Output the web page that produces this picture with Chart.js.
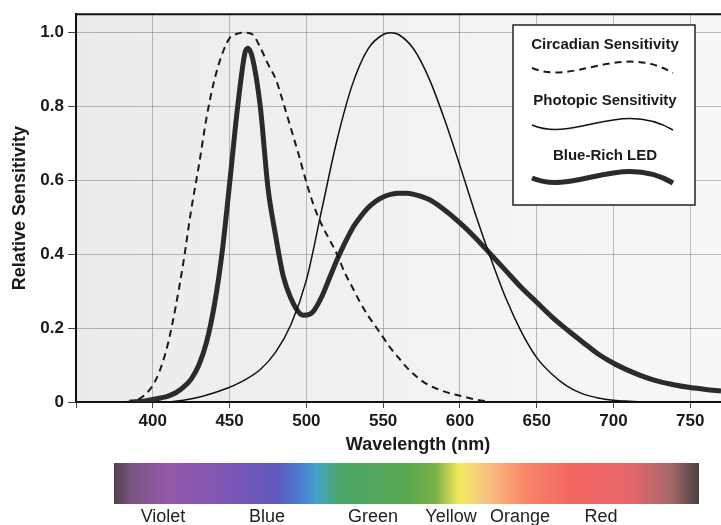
<!DOCTYPE html>
<html>
<head>
<meta charset="utf-8">
<script src="https://cdn.jsdelivr.net/npm/chart.js@4.4.1/dist/chart.umd.min.js"></script>
<style>
    body { margin: 0; background: #ffffff; }
    #wrap { width: 721px; height: 525px; position: relative; }
</style>
</head>
<body>
<div id="wrap"><canvas id="sensChart" width="721" height="525"></canvas></div>
<script>
// Circadian sensitivity (dashed)
const circadianNm = [383, 390, 395, 400, 405, 410, 415, 420, 425, 430, 435, 440, 445, 450, 455, 460, 465, 470, 475, 480, 485, 490, 495, 500, 505, 510, 515, 520, 525, 530, 535, 540, 545, 550, 555, 560, 565, 570, 575, 580, 590, 600, 610, 620];
const circadianVals = [0, 0.006, 0.02, 0.045, 0.09, 0.16, 0.26, 0.38, 0.52, 0.64, 0.77, 0.87, 0.94, 0.985, 0.997, 1.0, 0.995, 0.96, 0.915, 0.875, 0.81, 0.74, 0.67, 0.595, 0.53, 0.48, 0.44, 0.40, 0.35, 0.31, 0.27, 0.235, 0.205, 0.175, 0.145, 0.12, 0.095, 0.075, 0.058, 0.045, 0.028, 0.017, 0.007, 0];

// Photopic sensitivity (thin)
const photopicNm = [410, 420, 430, 440, 450, 460, 470, 480, 490, 500, 510, 520, 530, 540, 550, 555, 560, 570, 580, 590, 600, 610, 620, 630, 640, 650, 660, 670, 680, 690, 700, 710, 720];
const photopicVals = [0, 0.005, 0.013, 0.025, 0.04, 0.06, 0.088, 0.135, 0.21, 0.33, 0.52, 0.71, 0.86, 0.955, 0.995, 1.0, 0.995, 0.955, 0.875, 0.765, 0.64, 0.51, 0.39, 0.28, 0.19, 0.12, 0.075, 0.042, 0.022, 0.011, 0.005, 0.002, 0];

// Blue-rich LED spectrum (thick)
const ledNm = [385, 395, 400, 405, 410, 415, 420, 425, 430, 435, 440, 445, 450, 455, 460, 462, 465, 470, 475, 480, 485, 490, 495, 498, 502, 505, 510, 515, 520, 525, 530, 535, 540, 545, 550, 555, 560, 565, 570, 580, 590, 600, 610, 620, 630, 640, 650, 660, 670, 680, 690, 700, 710, 720, 730, 740, 750, 760, 770];
const ledVals = [0, 0.003, 0.007, 0.011, 0.016, 0.025, 0.04, 0.062, 0.1, 0.162, 0.26, 0.4, 0.59, 0.79, 0.945, 0.958, 0.93, 0.8, 0.58, 0.45, 0.34, 0.28, 0.243, 0.235, 0.237, 0.248, 0.285, 0.335, 0.385, 0.43, 0.47, 0.5, 0.525, 0.543, 0.555, 0.562, 0.565, 0.565, 0.562, 0.548, 0.52, 0.485, 0.445, 0.4, 0.355, 0.31, 0.27, 0.23, 0.195, 0.162, 0.13, 0.105, 0.085, 0.068, 0.055, 0.046, 0.039, 0.034, 0.03];

const xTicks = [350, 400, 450, 500, 550, 600, 650, 700, 750];
const yTicks = [0, 0.2, 0.4, 0.6, 0.8, 1.0];
const seriesNames = ["Circadian Sensitivity", "Photopic Sensitivity", "Blue-Rich LED"];
const colourNames = ["Violet", "Blue", "Green", "Yellow", "Orange", "Red"];

const toPoints = (xs, ys) => xs.map((x, i) => ({ x: x, y: ys[i] }));
const FONT = "'Liberation Sans', Arial, Helvetica, sans-serif";

// wavy sample line for the legend box
function wave(ctx, x0, x1, yc) {
    const w = x1 - x0;
    ctx.beginPath();
    ctx.moveTo(x0, yc);
    ctx.bezierCurveTo(x0 + 0.3 * w, yc + 18, x0 + 0.62 * w, yc - 26, x1, yc + 5);
    ctx.stroke();
}

const extrasPlugin = {
    id: "extras",
    beforeDraw(chart) {
        const { ctx, chartArea: a } = chart;
        ctx.save();
        const g = ctx.createLinearGradient(a.left, 0, a.right, 0);
        g.addColorStop(0, "#ebebeb");
        g.addColorStop(1, "#f8f8f8");
        ctx.fillStyle = g;
        ctx.fillRect(a.left, a.top, a.right - a.left, a.bottom - a.top);
        ctx.restore();
    },
    afterDraw(chart) {
        const { ctx, chartArea: a } = chart;
        ctx.save();

        // top frame line
        ctx.strokeStyle = "#111";
        ctx.lineWidth = 2;
        ctx.beginPath();
        ctx.moveTo(a.left, a.top);
        ctx.lineTo(a.right, a.top);
        ctx.stroke();

        // x axis title
        ctx.fillStyle = "#1a1a1a";
        ctx.font = "bold 18px " + FONT;
        ctx.textAlign = "center";
        ctx.textBaseline = "middle";
        ctx.fillText("Wavelength (nm)", 418, 445);

        // legend box
        const bx = 513, by = 25, bw = 182, bh = 180;
        ctx.fillStyle = "#ffffff";
        ctx.fillRect(bx, by, bw, bh);
        ctx.strokeStyle = "#222";
        ctx.lineWidth = 1.5;
        ctx.strokeRect(bx, by, bw, bh);

        const ds = chart.data.datasets;
        const textY = [45, 101, 156];
        const waveY = [68, 125, 178];
        ctx.font = "bold 15px " + FONT;
        ctx.fillStyle = "#1a1a1a";
        ds.forEach((d, i) => {
            ctx.fillText(seriesNames[i], 605, textY[i]);
            ctx.strokeStyle = d.borderColor;
            ctx.lineWidth = d.borderWidth;
            ctx.setLineDash(d.borderDash || []);
            wave(ctx, 532, 673, waveY[i]);
            ctx.setLineDash([]);
        });

        // spectrum bar
        const sx = 114, sy = 463, sw = 585, sh = 41;
        const sg = ctx.createLinearGradient(sx, 0, sx + sw, 0);
        sg.addColorStop(0, "#4e434c");
        sg.addColorStop(0.03, "#7a5580");
        sg.addColorStop(0.09, "#9458a8");
        sg.addColorStop(0.2, "#7c56b6");
        sg.addColorStop(0.28, "#5f58bb");
        sg.addColorStop(0.32, "#4a7fd0");
        sg.addColorStop(0.345, "#44a2cc");
        sg.addColorStop(0.385, "#4aa86a");
        sg.addColorStop(0.5, "#58a850");
        sg.addColorStop(0.55, "#7cb148");
        sg.addColorStop(0.59, "#f2ea5a");
        sg.addColorStop(0.63, "#f8c882");
        sg.addColorStop(0.7, "#f8896a");
        sg.addColorStop(0.78, "#f26660");
        sg.addColorStop(0.88, "#e8666a");
        sg.addColorStop(0.95, "#a86a6a");
        sg.addColorStop(1, "#4a4040");
        ctx.fillStyle = sg;
        ctx.fillRect(sx, sy, sw, sh);

        // colour names under the bar
        const nameX = [163, 267, 373, 451, 520, 601];
        ctx.font = "18px " + FONT;
        ctx.fillStyle = "#222";
        colourNames.forEach((n, i) => ctx.fillText(n, nameX[i], 517));

        ctx.restore();
    }
};

const ctx = document.getElementById("sensChart");

new Chart(ctx, {
    type: "line",
    data: {
        datasets: [
            {
                label: seriesNames[0],
                data: toPoints(circadianNm, circadianVals),
                borderColor: "#1a1a1a",
                borderWidth: 2,
                borderDash: [7, 5],
                pointRadius: 0,
                cubicInterpolationMode: "monotone"
            },
            {
                label: seriesNames[1],
                data: toPoints(photopicNm, photopicVals),
                borderColor: "#111111",
                borderWidth: 1.5,
                pointRadius: 0,
                cubicInterpolationMode: "monotone"
            },
            {
                label: seriesNames[2],
                data: toPoints(ledNm, ledVals),
                borderColor: "#2b2b2b",
                borderWidth: 5,
                pointRadius: 0,
                cubicInterpolationMode: "monotone"
            }
        ]
    },
    options: {
        responsive: false,
        animation: false,
        layout: { padding: { top: 14, left: 0, right: 0, bottom: 0 } },
        plugins: {
            legend: { display: false },
            tooltip: { enabled: false }
        },
        scales: {
            x: {
                type: "linear",
                min: 350,
                max: 770,
                afterFit: (s) => { s.height = 123; },
                afterBuildTicks: (s) => { s.ticks = xTicks.map(v => ({ value: v })); },
                ticks: {
                    padding: 3,
                    color: "#1a1a1a",
                    font: { family: FONT, size: 17, weight: "bold" },
                    callback: (v) => v === 350 ? "" : String(v),
                    maxRotation: 0
                },
                grid: {
                    color: "rgba(120,100,120,0.45)",
                    lineWidth: 1,
                    tickLength: 6,
                    tickColor: "#444"
                },
                border: { color: "#111", width: 2 }
            },
            y: {
                min: 0,
                max: 1.05,
                afterFit: (s) => { s.width = 76; },
                afterBuildTicks: (s) => { s.ticks = yTicks.map(v => ({ value: v })); },
                title: {
                    display: true,
                    text: "Relative Sensitivity",
                    color: "#1a1a1a",
                    font: { family: FONT, size: 18, weight: "bold" },
                    padding: { top: 9, bottom: 0 }
                },
                ticks: {
                    padding: 4,
                    color: "#1a1a1a",
                    font: { family: FONT, size: 17, weight: "bold" },
                    callback: (v) => v === 0 ? "0" : v.toFixed(1)
                },
                grid: {
                    color: "rgba(120,100,120,0.45)",
                    lineWidth: 1,
                    tickLength: 8,
                    tickColor: "#444"
                },
                border: { color: "#111", width: 2 }
            }
        }
    },
    plugins: [extrasPlugin]
});
</script>
</body>
</html>
